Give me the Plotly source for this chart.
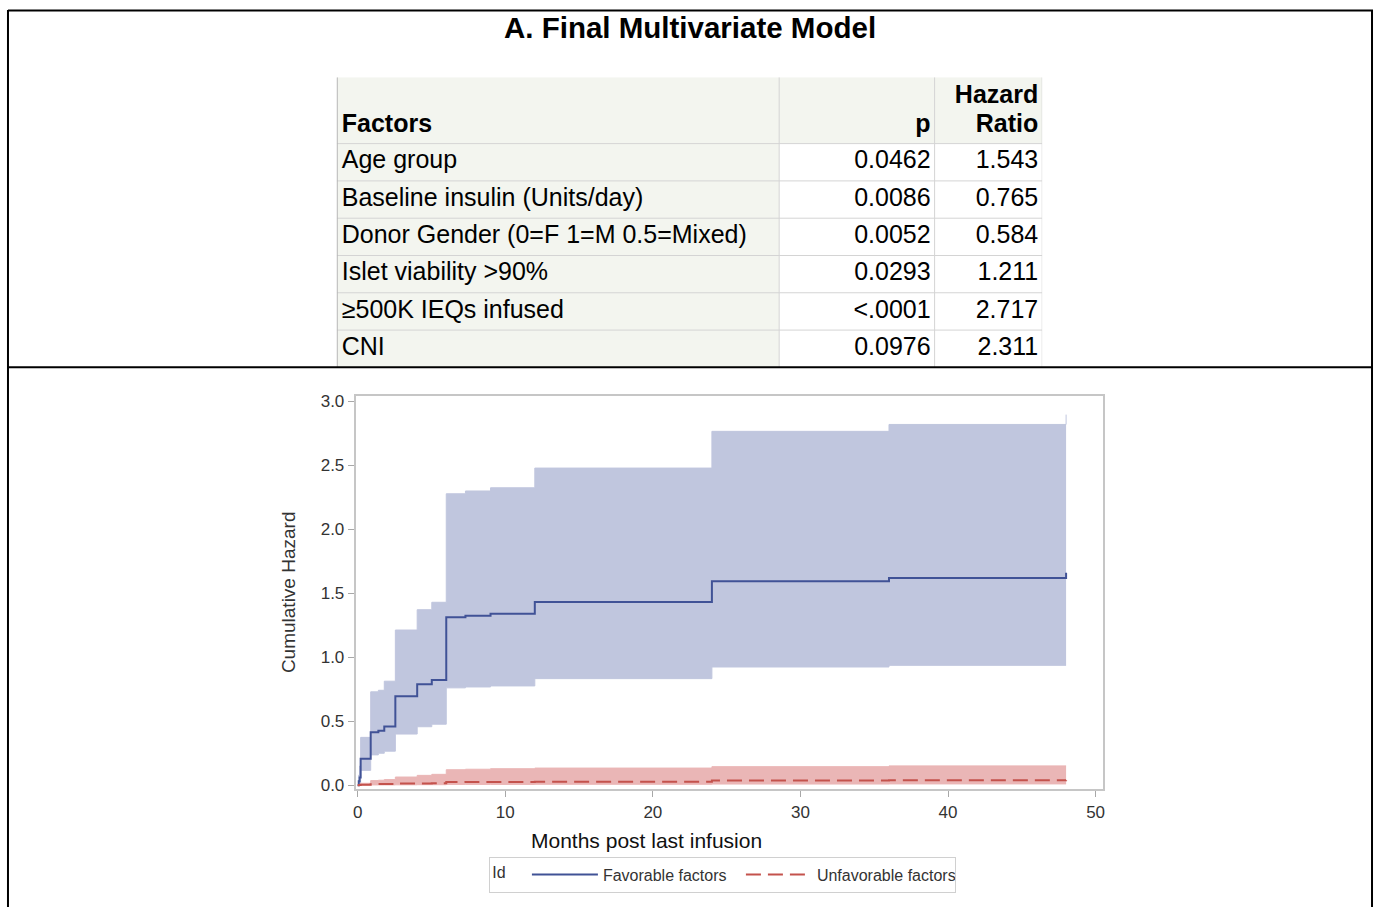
import plotly.graph_objects as go

# ---------------- data ----------------
factors = ["Age group", "Baseline insulin (Units/day)", "Donor Gender (0=F 1=M 0.5=Mixed)",
           "Islet viability >90%", "≥500K IEQs infused", "CNI"]
p_values = ["0.0462", "0.0086", "0.0052", "0.0293", "<.0001", "0.0976"]
hazard_ratios = ["1.543", "0.765", "0.584", "1.211", "2.717", "2.311"]
header_labels = [["Factors"], ["p"], ["Hazard", "Ratio"]]

months = [0, 0.07, 0.13, 0.2, 0.88, 1.4, 1.8, 2.55, 4.03, 5.02, 6.0, 7.3, 9.0, 12.0, 24.0, 36.0, 48.0]
fav_hazard = [0, 0.03, 0.06, 0.207, 0.413, 0.425, 0.459, 0.695, 0.79, 0.823, 1.313, 1.324, 1.34, 1.432, 1.594, 1.62, 1.66]
fav_upper = [0, 0.08, 0.15, 0.374, 0.73, 0.742, 0.813, 1.213, 1.372, 1.43, 2.278, 2.30, 2.325, 2.479, 2.766, 2.82, 2.897]
fav_lower = [0, 0.005, 0.01, 0.116, 0.237, 0.25, 0.266, 0.40, 0.457, 0.477, 0.761, 0.768, 0.776, 0.833, 0.924, 0.937, 0.937]
unf_hazard = [0, 0.001, 0.002, 0.004, 0.008, 0.009, 0.01, 0.013, 0.014, 0.015, 0.025, 0.026, 0.026, 0.028, 0.037, 0.038, 0.039]
unf_upper = [0, 0.003, 0.006, 0.015, 0.036, 0.039, 0.044, 0.064, 0.077, 0.085, 0.121, 0.125, 0.129, 0.134, 0.145, 0.151, 0.151]
unf_lower = [0, 0, 0, 0.001, 0.002, 0.002, 0.002, 0.003, 0.004, 0.004, 0.006, 0.006, 0.006, 0.007, 0.009, 0.01, 0.01]

# ---------------- layout constants ----------------
W, H = 1377, 913
FONT = "Liberation Sans, Arial, sans-serif"
TABLE_LEFT, TABLE_RIGHT, TABLE_TOP, TABLE_BOTTOM = 335, 1043, 75, 368
COL_WIDTHS = [444, 156, 108]
HEADER_H = 67
PAD_L, PAD_R = 5, 4
HEADER_LINE_GAP = 29


def px(x):
    return x / W


def py(y):
    return 1 - y / H


BLUE_BAND = "rgb(192,198,222)"
BLUE_LINE = "rgb(64,82,150)"
RED_BAND = "rgb(234,182,182)"
RED_LINE = "rgb(196,82,76)"
GREEN = "#f3f5ef"
GRID = "#d4d4d4"

fig = go.Figure()

# ---------------- chart ----------------
fig.add_trace(go.Scatter(x=months, y=fav_lower, mode="lines", line=dict(shape="hv", width=1, color=BLUE_BAND),
                         showlegend=False, hoverinfo="skip"))
fig.add_trace(go.Scatter(x=months, y=fav_upper, mode="lines", line=dict(shape="hv", width=1, color=BLUE_BAND),
                         fill="tonexty", fillcolor=BLUE_BAND, showlegend=False, hoverinfo="skip"))
fig.add_trace(go.Scatter(x=months, y=unf_lower, mode="lines", line=dict(shape="hv", width=1, color=RED_BAND),
                         showlegend=False, hoverinfo="skip"))
fig.add_trace(go.Scatter(x=months, y=unf_upper, mode="lines", line=dict(shape="hv", width=1, color=RED_BAND),
                         fill="tonexty", fillcolor=RED_BAND, showlegend=False, hoverinfo="skip"))
fig.add_trace(go.Scatter(x=months, y=fav_hazard, mode="lines", name="Favorable factors",
                         line=dict(shape="hv", width=2, color=BLUE_LINE)))
fig.add_trace(go.Scatter(x=months, y=unf_hazard, mode="lines", name="Unfavorable factors",
                         line=dict(shape="hv", width=2, color=RED_LINE, dash="15px,7px")))

# ---------------- table (on its own hidden axes) ----------------
n = len(factors)
table_w = sum(COL_WIDTHS)
table_h = TABLE_BOTTOM - TABLE_TOP
row_h = (table_h - HEADER_H) / n
col_edges = [0]
for w in COL_WIDTHS:
    col_edges.append(col_edges[-1] + w)
row_centers = [HEADER_H + row_h * (i + 0.5) for i in range(n)]

shapes = []
shapes.append(dict(type="rect", xref="x2", yref="y2", x0=0, x1=table_w, y0=0, y1=HEADER_H,
                   fillcolor=GREEN, line=dict(width=0), layer="below"))
shapes.append(dict(type="rect", xref="x2", yref="y2", x0=0, x1=col_edges[1], y0=HEADER_H, y1=table_h,
                   fillcolor=GREEN, line=dict(width=0), layer="below"))
for i in range(n):
    yy = HEADER_H + row_h * i
    shapes.append(dict(type="line", xref="x2", yref="y2", x0=0, x1=table_w, y0=yy, y1=yy,
                       line=dict(color=GRID, width=1)))
for xx in col_edges[1:]:
    shapes.append(dict(type="line", xref="x2", yref="y2", x0=xx, x1=xx, y0=0, y1=table_h,
                       line=dict(color=GRID, width=1)))
shapes.append(dict(type="line", xref="x2", yref="y2", x0=0, x1=0, y0=0, y1=table_h,
                   line=dict(color="#b8b8b8", width=2)))

cell_font = dict(family=FONT, size=25, color="#000")
columns = [factors, p_values, hazard_ratios]
aligns = ["left", "right", "right"]
for ci, (col, al) in enumerate(zip(columns, aligns)):
    if al == "left":
        xpos, tpos = col_edges[ci] + PAD_L, "middle right"
    else:
        xpos, tpos = col_edges[ci + 1] - PAD_R, "middle left"
    fig.add_trace(go.Scatter(x=[xpos] * n, y=row_centers, text=col, mode="text", textposition=tpos,
                             textfont=cell_font, showlegend=False, hoverinfo="skip",
                             xaxis="x2", yaxis="y2", cliponaxis=False))
    lines = header_labels[ci]
    hy = [HEADER_H - 18.5 - HEADER_LINE_GAP * (len(lines) - 1 - j) for j in range(len(lines))]
    fig.add_trace(go.Scatter(x=[xpos] * len(lines), y=hy, text=["<b>%s</b>" % t for t in lines],
                             mode="text", textposition=tpos, textfont=cell_font, showlegend=False,
                             hoverinfo="skip", xaxis="x2", yaxis="y2", cliponaxis=False))

# outer frame
frame = [
    (5, 1375, 7.5, 7.5), (5, 5, 7, H), (1374, 1374, 7, H), (5, 1375, 368, 368),
]
for x0, x1, y0, y1 in frame:
    shapes.append(dict(type="line", xref="paper", yref="paper", x0=px(x0), x1=px(x1), y0=py(y0), y1=py(y1),
                       line=dict(color="black", width=2)))

axis_common = dict(
    showline=True, mirror=True, linecolor="#c6c6c6", linewidth=2,
    ticks="outside", ticklen=6, tickwidth=1, tickcolor="#a8a8a8",
    showgrid=False, zeroline=False,
    tickfont=dict(family=FONT, size=17, color="#333"),
)

fig.update_layout(
    width=W, height=H,
    margin=dict(l=0, r=0, t=0, b=0),
    paper_bgcolor="white", plot_bgcolor="rgba(0,0,0,0)",
    font=dict(family=FONT),
    xaxis=dict(domain=[px(354), px(1104)], range=[-0.135, 50.5], tickvals=[0, 10, 20, 30, 40, 50],
               anchor="y", **axis_common),
    yaxis=dict(domain=[py(794), py(396.7)], range=[-0.031, 3.044], tickvals=[0, 0.5, 1.0, 1.5, 2.0, 2.5, 3.0],
               tickformat=".1f", anchor="x", **axis_common),
    xaxis2=dict(domain=[px(TABLE_LEFT), px(TABLE_RIGHT)], range=[0, table_w], visible=False, anchor="y2"),
    yaxis2=dict(domain=[py(TABLE_BOTTOM), py(TABLE_TOP)], range=[table_h, 0], visible=False, anchor="x2"),
    showlegend=True,
    legend=dict(
        orientation="h", x=px(488), y=py(862), xanchor="left", yanchor="top",
        bordercolor="#d0d0d0", borderwidth=1, bgcolor="white", traceorder="normal",
        itemwidth=66, entrywidth=133,
        font=dict(family=FONT, size=16, color="#333"),
        title=dict(text="Id\u00a0\u00a0\u00a0", side="left", font=dict(family=FONT, size=16, color="#333")),
    ),
    annotations=[
        dict(text="<b>A. Final Multivariate Model</b>", x=px(690), y=py(25), xref="paper", yref="paper",
             showarrow=False, font=dict(family=FONT, size=29.5, color="#000"), xanchor="center", yanchor="middle"),
        dict(text="Months post last infusion", x=px(646), y=py(846), xref="paper", yref="paper",
             showarrow=False, font=dict(family=FONT, size=21, color="#111"), xanchor="center", yanchor="middle"),
        dict(text="Cumulative Hazard", x=px(286), y=py(595), xref="paper", yref="paper", textangle=-90,
             showarrow=False, font=dict(family=FONT, size=19, color="#333"), xanchor="center", yanchor="middle"),
    ],
    shapes=shapes,
)

page_css = (
    "var d=document.getElementById('{plot_id}');"
    "[document.documentElement, document.body].forEach(function(e){"
    "e.style.margin='0';e.style.padding='0';e.style.overflow='hidden';"
    "e.style.width='%dpx';e.style.height='%dpx';});"
    "var p=d.parentElement;p.style.width='%dpx';p.style.height='%dpx';p.style.overflow='hidden';"
    "p.style.lineHeight='0';p.style.margin='0';p.style.padding='0';"
) % (W, H, W, H)

fig.write_html("out.html", config={"displayModeBar": False}, post_script=page_css)
